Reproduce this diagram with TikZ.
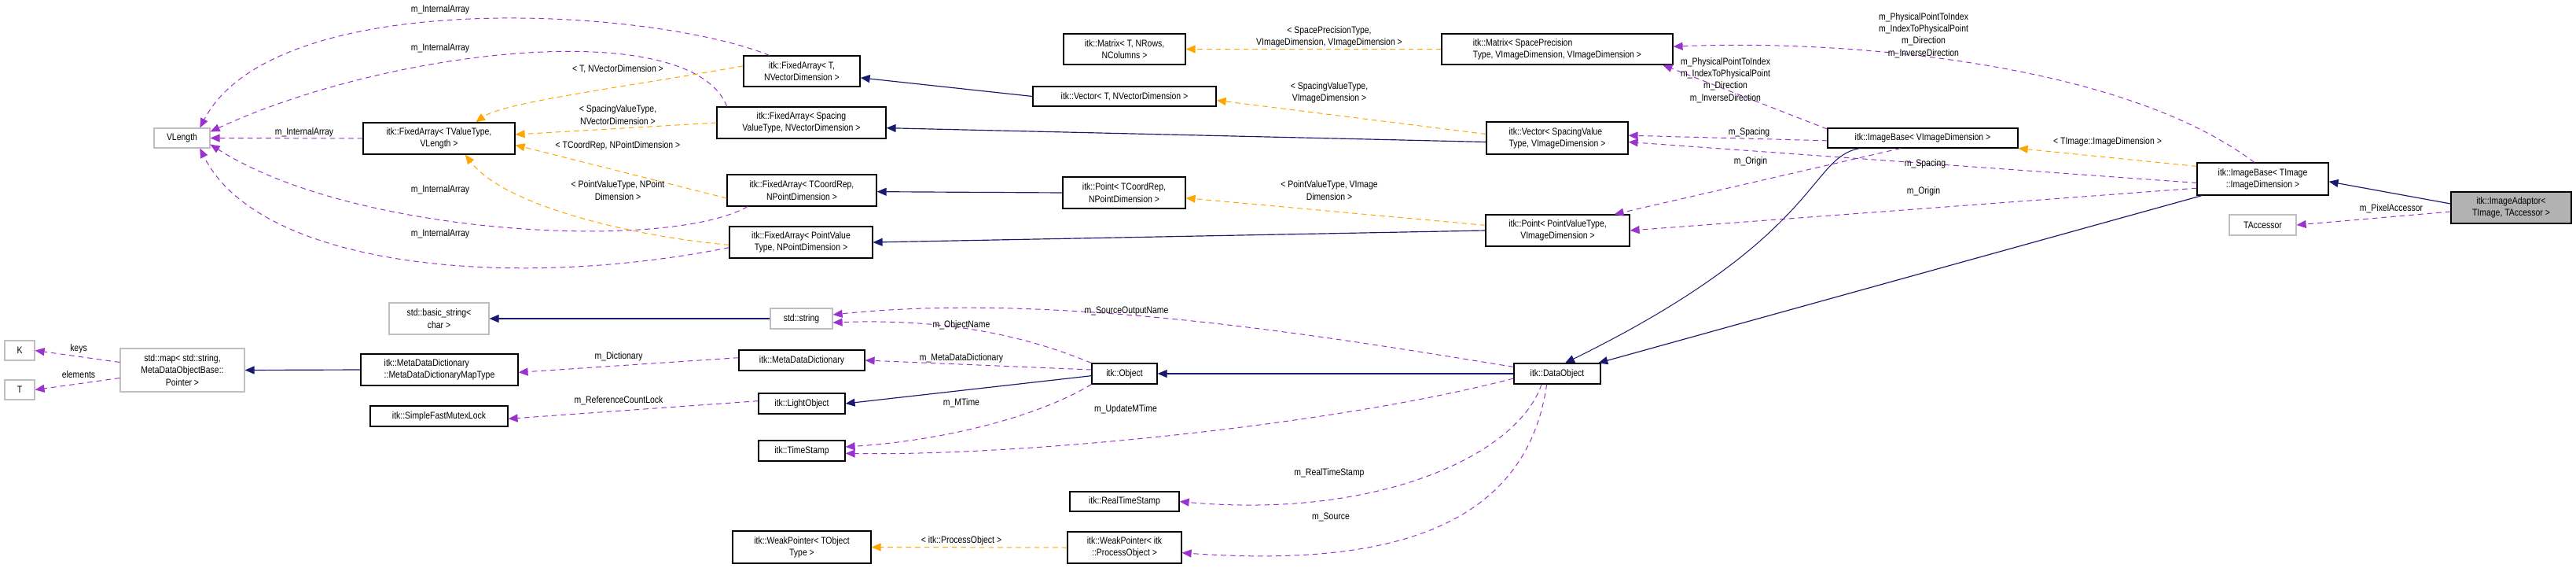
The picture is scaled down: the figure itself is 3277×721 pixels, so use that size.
\documentclass[tikz,border=0pt]{standalone}
\usepackage{fontspec}
\setmainfont{Liberation Sans}[FakeStretch=0.85]
\usetikzlibrary{arrows.meta}
\definecolor{inh}{HTML}{191970}
\definecolor{tpl}{HTML}{FFA500}
\definecolor{use}{HTML}{9A32CD}
\definecolor{gborder}{HTML}{BFBFBF}
\begin{document}
\begin{tikzpicture}[x=0.3mm,y=-0.3mm,
  every node/.style={font=\fontsize{10.5}{13}\selectfont},
  box/.style={draw=black,line width=0.35mm,fill=white,align=center,inner sep=1pt},
  gbox/.style={draw=gborder,line width=0.35mm,fill=white,align=center,inner sep=1pt},
  sel/.style={box,fill=black!30},
  tip/.style={-{Triangle[length=3.6mm,width=3mm]}},
  inh/.style={tip,draw=inh,line width=0.35mm},
  tpl/.style={tip,draw=tpl,line width=0.3mm,dashed,dash pattern=on 2mm off 1.5mm},
  use/.style={tip,draw=use,line width=0.3mm,dashed,dash pattern=on 2mm off 1.5mm},
  lab/.style={align=center,inner sep=0pt}]
\useasboundingbox (0,0) rectangle (3277,721);
% nodes
\node[gbox,minimum width=21.3mm,minimum height=7.5mm] (VL) at (231.5,175.5) {VLength};
\node[box,minimum width=57.9mm,minimum height=12mm] (FATV) at (558.5,176) {itk::FixedArray< TValueType,\\VLength >};
\node[box,minimum width=44.4mm,minimum height=11.7mm] (FAT) at (1020,90.5) {itk::FixedArray< T,\\NVectorDimension >};
\node[box,minimum width=64.5mm,minimum height=12mm] (FASV) at (1019.5,156) {itk::FixedArray< Spacing\\ValueType, NVectorDimension >};
\node[box,minimum width=57mm,minimum height=12mm] (FATC) at (1020,242) {itk::FixedArray< TCoordRep,\\NPointDimension >};
\node[box,minimum width=54.6mm,minimum height=12mm] (FAPV) at (1019,308) {itk::FixedArray< PointValue\\Type, NPointDimension >};
\node[box,minimum width=46.5mm,minimum height=11.7mm] (MatT) at (1430.5,62.5) {itk::Matrix< T, NRows,\\NColumns >};
\node[box,minimum width=69.9mm,minimum height=7.5mm] (VecT) at (1430.5,122.5) {itk::Vector< T, NVectorDimension >};
\node[box,minimum width=46.8mm,minimum height=12mm] (PtT) at (1430,245) {itk::Point< TCoordRep,\\NPointDimension >};
\node[box,minimum width=88.2mm,minimum height=11.7mm,align=left] (MatS) at (1981,62.5) {itk::Matrix< SpacePrecision\\Type, VImageDimension, VImageDimension >};
\node[box,minimum width=54mm,minimum height=12.3mm,align=left] (VecS) at (1981,175.5) {itk::Vector< SpacingValue\\Type, VImageDimension >};
\node[box,minimum width=54.9mm,minimum height=12mm] (PtS) at (1981.5,293) {itk::Point< PointValueType,\\VImageDimension >};
\node[box,minimum width=72.6mm,minimum height=7.5mm] (IBV) at (2446,175.5) {itk::ImageBase< VImageDimension >};
\node[box,minimum width=50.1mm,minimum height=12.3mm] (IBT) at (2878.5,227.5) {itk::ImageBase< TImage\\::ImageDimension >};
\node[sel,minimum width=45.9mm,minimum height=12mm] (IA) at (3194.5,264) {itk::ImageAdaptor<\\TImage, TAccessor >};
\node[gbox,minimum width=25.5mm,minimum height=7.8mm] (TA) at (2878.5,286) {TAccessor};
\node[gbox,minimum width=11.4mm,minimum height=7.5mm] (K) at (25,445.5) {K};
\node[gbox,minimum width=11.4mm,minimum height=7.5mm] (Tt) at (25,495.5) {T};
\node[gbox,minimum width=47.4mm,minimum height=16.5mm] (MAP) at (232,470.5) {std::map< std::string,\\MetaDataObjectBase::\\Pointer >};
\node[box,minimum width=60mm,minimum height=12mm,align=left] (MDT) at (559,470) {itk::MetaDataDictionary\\::MetaDataDictionaryMapType};
\node[box,minimum width=52.5mm,minimum height=7.8mm] (SFM) at (558.5,529) {itk::SimpleFastMutexLock};
\node[gbox,minimum width=38.1mm,minimum height=12mm] (BS) at (558.5,405) {std::basic\_string<\\char >};
\node[gbox,minimum width=23.7mm,minimum height=7.8mm] (STR) at (1019.5,405) {std::string};
\node[box,minimum width=48mm,minimum height=7.8mm] (MDD) at (1020,458) {itk::MetaDataDictionary};
\node[box,minimum width=33mm,minimum height=7.8mm] (LO) at (1020,513) {itk::LightObject};
\node[box,minimum width=33mm,minimum height=7.8mm] (TS) at (1020,573) {itk::TimeStamp};
\node[box,minimum width=52.8mm,minimum height=12.3mm] (WPT) at (1020,695.5) {itk::WeakPointer< TObject\\Type >};
\node[box,minimum width=24.9mm,minimum height=7.8mm] (OBJ) at (1430.5,475) {itk::Object};
\node[box,minimum width=33mm,minimum height=7.8mm] (DO) at (1981,475) {itk::DataObject};
\node[box,minimum width=41.7mm,minimum height=7.5mm] (RTS) at (1430.5,637.5) {itk::RealTimeStamp};
\node[box,minimum width=43.5mm,minimum height=12mm] (WPP) at (1430.5,696) {itk::WeakPointer< itk\\::ProcessObject >};
% VLength usage
\draw[use] ([xshift=10mm]FAT.north west) .. controls (830,10) and (350,-20) .. ([xshift=-4mm]VL.north east);
\draw[use] ([xshift=4mm]FASV.north west) .. controls (880,20) and (500,60) .. ([yshift=-1.5mm]VL.north east);
\draw[use] (FATV.west) -- (VL.east);
\draw[use] ([xshift=8mm]FATC.south west) .. controls (850,320) and (450,300) .. ([yshift=1.5mm]VL.south east);
\draw[use] ([yshift=-2mm]FAPV.west) .. controls (650,370) and (330,340) .. ([xshift=-4mm]VL.south east);
\node[lab] (l1) at (560,12) {m\_InternalArray};
\node[lab] (l2) at (560,61) {m\_InternalArray};
\node[lab] (l3) at (387,168) {m\_InternalArray};
\node[lab] (l4) at (560,241) {m\_InternalArray};
\node[lab] (l5) at (560,297) {m\_InternalArray};
% FixedArray templates
\draw[tpl] ([yshift=2mm]FAT.west) .. controls (800,110) and (640,130) .. ([xshift=14mm]FATV.north);
\draw[tpl] (FASV.west) -- ([yshift=1.5mm]FATV.east);
\draw[tpl] ([yshift=-3mm]FATC.west) -- ([yshift=-2.5mm]FATV.east);
\draw[tpl] ([yshift=-1mm]FAPV.west) .. controls (800,300) and (640,260) .. ([xshift=10mm]FATV.south);
\node[lab] at (786,88) {< T, NVectorDimension >};
\node[lab] at (786,146) {< SpacingValueType,\\NVectorDimension >};
\node[lab] at (786,185) {< TCoordRep, NPointDimension >};
\node[lab] at (786,242) {< PointValueType, NPoint\\Dimension >};
% inheritance FixedArray
\draw[inh] (VecT.west) -- ([yshift=-2.5mm]FAT.east);
\draw[inh] ([yshift=-1.5mm]VecS.west) -- ([yshift=-2mm]FASV.east);
\draw[inh] (PtT.west) -- ([yshift=-0.5mm]FATC.east);
\draw[inh] (PtS.west) -- (FAPV.east);
% matrix/vector/point templates
\draw[tpl] (MatS.west) -- (MatT.east);
\draw[tpl] ([yshift=1.5mm]VecS.west) -- ([yshift=-1.5mm]VecT.east);
\draw[tpl] ([yshift=2mm]PtS.west) -- ([yshift=-2mm]PtT.east);
\node[lab] at (1691,47) {< SpacePrecisionType,\\VImageDimension, VImageDimension >};
\node[lab] at (1691,118) {< SpacingValueType,\\VImageDimension >};
\node[lab] at (1691,242) {< PointValueType, VImage\\Dimension >};
% ImageBase usages
\draw[use] ([xshift=22mm]IBT.north west) .. controls (2700,80) and (2350,50) .. ([yshift=1mm]MatS.east);
\draw[use] ([yshift=-0.5mm]IBV.north west) -- ([xshift=-4mm]MatS.south east);
\draw[use] ([yshift=-1mm]IBV.west) -- ([yshift=1mm]VecS.east);
\draw[use] ([xshift=28mm]IBV.south west) -- ([xshift=-6mm]PtS.north east);
\draw[use] ([yshift=-1.5mm]IBT.west) -- ([yshift=-1.5mm]VecS.east);
\draw[use] ([yshift=-3.5mm]IBT.west) -- (PtS.east);
\node[lab] at (2447,45) {m\_PhysicalPointToIndex\\m\_IndexToPhysicalPoint\\m\_Direction\\m\_InverseDirection};
\node[lab] at (2195,102) {m\_PhysicalPointToIndex\\m\_IndexToPhysicalPoint\\m\_Direction\\m\_InverseDirection};
\node[lab] at (2225,168) {m\_Spacing};
\node[lab] at (2227,205) {m\_Origin};
\node[lab] at (2449,208) {m\_Spacing};
\node[lab] at (2447,243) {m\_Origin};
\draw[tpl] ([yshift=-1.5mm]IBT.north west) -- ([xshift=0mm]IBV.south east);
\node[lab] at (2681,180) {< TImage::ImageDimension >};
\draw[inh] ([yshift=1.5mm]IA.west) -- ([yshift=-1mm]IBT.east);
\draw[use] ([yshift=-1.5mm]IA.west) -- (TA.east);
\node[lab] at (3042,265) {m\_PixelAccessor};
% DataObject inheritance
\draw[inh,line width=0.3mm] ([xshift=-24mm]IBV.south) .. controls (2300,200) and (2320,300) .. ([xshift=3mm]DO.north);
\draw[inh] ([xshift=2mm]IBT.south west) -- ([xshift=-1mm]DO.north east);
\draw[inh] (DO.west) -- (OBJ.east);
\draw[inh] ([yshift=-0.8mm]OBJ.west) -- (LO.east);
% usages of Object / DataObject
\draw[use] ([yshift=-1.5mm]DO.north west) .. controls (1700,430) and (1350,370) .. ([yshift=1.5mm]STR.east);
\draw[use] ([xshift=0mm]OBJ.north west) .. controls (1300,425) and (1200,405) .. ([yshift=-1.5mm]STR.east);
\draw[use] ([yshift=1.5mm]OBJ.west) -- (MDD.east);
\draw[use] (OBJ.south west) .. controls (1320,530) and (1200,560) .. ([yshift=1.5mm]TS.east);
\draw[use] ([yshift=-1.8mm]DO.west) .. controls (1700,540) and (1300,580) .. ([yshift=-1mm]TS.east);
\draw[use] ([xshift=-6mm]DO.south) .. controls (1930,580) and (1750,660) .. (RTS.east);
\draw[use] ([xshift=-4mm]DO.south) .. controls (1940,680) and (1750,720) .. ([yshift=-2mm]WPP.east);
\node[lab] at (1433,395) {m\_SourceOutputName};
\node[lab] at (1223,413) {m\_ObjectName};
\node[lab] at (1223,455) {m\_MetaDataDictionary};
\node[lab] at (1223,512) {m\_MTime};
\node[lab] at (1432,520) {m\_UpdateMTime};
\node[lab] at (1691,601) {m\_RealTimeStamp};
\node[lab] at (1693,657) {m\_Source};
\draw[tpl] (WPP.west) -- (WPT.east);
\node[lab] at (1223,687) {< itk::ProcessObject >};
\draw[use] ([yshift=1mm]MDD.west) -- ([yshift=-1mm]MDT.east);
\node[lab] at (787,453) {m\_Dictionary};
\draw[use] ([yshift=1mm]LO.west) -- ([yshift=-1mm]SFM.east);
\node[lab] at (787,509) {m\_ReferenceCountLock};
\draw[inh] (MDT.west) -- (MAP.east);
\draw[inh] (STR.west) -- (BS.east);
\draw[use] ([yshift=3mm]MAP.west) -- (K.east);
\draw[use] ([yshift=-3mm]MAP.west) -- (Tt.east);
\node[lab] at (100,443) {keys};
\node[lab] at (100,476) {elements};
\end{tikzpicture}
\end{document}
